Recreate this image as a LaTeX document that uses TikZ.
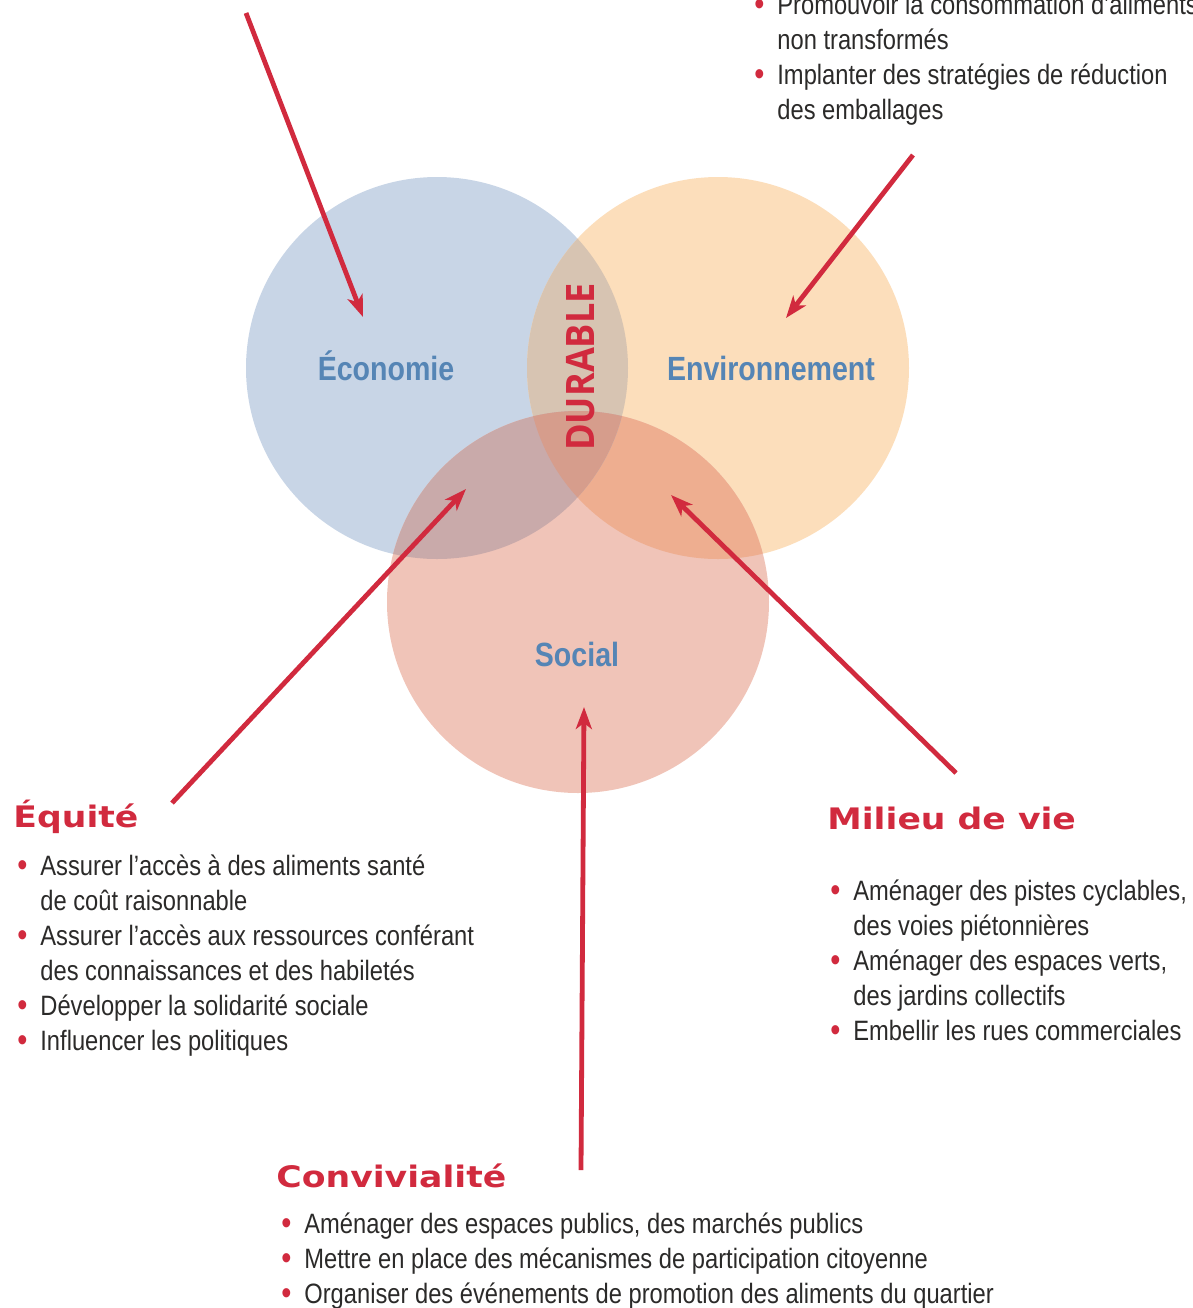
\documentclass[tikz,border=0pt]{standalone}
\usepackage{fontspec}
\setmainfont{Liberation Sans}
\newfontfamily\itemfont[FakeStretch=0.847]{Liberation Sans}
\newfontfamily\labelfont[FakeStretch=0.85]{Liberation Sans}
\newfontfamily\titlefont[FakeStretch=1.17]{DejaVu Sans}
\newfontfamily\durafont[FakeStretch=0.92]{Open Sans}
\usetikzlibrary{arrows.meta}

\definecolor{ecofill}{HTML}{C8D5E6}
\definecolor{envfill}{HTML}{FCDEBB}
\definecolor{socfill}{HTML}{F0C4B8}
\definecolor{ecoenv}{HTML}{D7C4B2}
\definecolor{ecosoc}{HTML}{C9AAAA}
\definecolor{envsoc}{HTML}{EEAE90}
\definecolor{allthree}{HTML}{D69D8C}
\definecolor{accent}{HTML}{D12A3E}
\definecolor{labelblue}{HTML}{5585B5}
\definecolor{textgray}{HTML}{2B2A29}

\newcommand{\bul}{\llap{\textcolor{accent}{\raisebox{-0.8pt}{\fontsize{17}{17}\selectfont\textbullet}}\hspace{6.5pt}}}

\begin{document}
\begin{tikzpicture}[x=0.5pt,y=-0.5pt,
    disc/.style={circle,inner sep=0pt,outer sep=0pt,minimum size=191pt},
    lbl/.style={inner sep=0pt,text=labelblue,font=\labelfont\bfseries\fontsize{16.8}{18}\selectfont},
    heading/.style={inner sep=0pt,text=accent,font=\titlefont\bfseries\fontsize{14.8}{16}\selectfont},
    items/.style={inner sep=0pt,align=left,text=textgray,font=\itemfont\fontsize{14}{17.5}\selectfont},
    pointer/.style={draw=accent,line width=2.4pt,-{Stealth[length=11pt,width=8pt,inset=3pt]}}]
  \useasboundingbox (0,0) rectangle (1193,1308);

  \node[disc,fill=ecofill] (eco) at (437,368) {};
  \node[disc,fill=envfill] (env) at (718,368) {};
  \node[disc,fill=socfill] (soc) at (578,602) {};

  \begin{scope}
    \clip (env.center) circle[radius=95.5pt];
    \fill[envsoc] (soc.center) circle[radius=95.5pt];
  \end{scope}
  \begin{scope}
    \clip (eco.center) circle[radius=95.5pt];
    \fill[ecoenv] (env.center) circle[radius=95.5pt];
    \fill[ecosoc] (soc.center) circle[radius=95.5pt];
    \clip (env.center) circle[radius=95.5pt];
    \fill[allthree] (soc.center) circle[radius=95.5pt];
  \end{scope}

  \node[lbl,anchor=base] (economie) at (386,380) {Économie};
  \node[lbl,anchor=base] (environnement) at (771,380) {Environnement};
  \node[lbl,anchor=base] (social) at (577,666) {Social};
  \node[inner sep=0pt,rotate=90,text=accent,font=\durafont\bfseries\fontsize{19.6}{20}\selectfont] (durable) at (581,367) {DURABLE};

  % multi-line nodes: base = last line
  \node[items,anchor=base west] (envitems) at (777,119) {%
    \bul Promouvoir la consommation d’aliments\\
    non transformés\\
    \bul Implanter des stratégies de réduction\\
    des emballages};

  \node[heading,anchor=base west] (equite) at (13,827) {Équité};
  \node[items,anchor=base west] (equitems) at (40,1050) {%
    \bul Assurer l’accès à des aliments santé\\
    de coût raisonnable\\
    \bul Assurer l’accès aux ressources conférant\\
    des connaissances et des habiletés\\
    \bul Développer la solidarité sociale\\
    \bul Influencer les politiques};

  \node[heading,anchor=base west] (milieu) at (827,829) {Milieu de vie};
  \node[items,anchor=base west] (militems) at (853,1040) {%
    \bul Aménager des pistes cyclables,\\
    des voies piétonnières\\
    \bul Aménager des espaces verts,\\
    des jardins collectifs\\
    \bul Embellir les rues commerciales};

  \node[heading,anchor=base west] (convi) at (276,1187) {Convivialité};
  \node[items,anchor=base west] (conitems) at (304,1303) {%
    \bul Aménager des espaces publics, des marchés publics\\
    \bul Mettre en place des mécanismes de participation citoyenne\\
    \bul Organiser des événements de promotion des aliments du quartier};

  \coordinate (ecostart) at (246,13);
  \coordinate (ecoend) at (363,317);
  \coordinate (envstart) at (913,155);
  \coordinate (envend) at (786,318);
  \coordinate (equstart) at (172,803);
  \coordinate (equend) at (466,489);
  \coordinate (milstart) at (956,773);
  \coordinate (milend) at (671,495);
  \coordinate (constart) at (581,1170);
  \coordinate (conend) at (584,707);

  \draw[pointer] (ecostart) -- (ecoend);
  \draw[pointer] (envstart) -- (envend);
  \draw[pointer] (equstart) -- (equend);
  \draw[pointer] (milstart) -- (milend);
  \draw[pointer] (constart) -- (conend);
\end{tikzpicture}
\end{document}
